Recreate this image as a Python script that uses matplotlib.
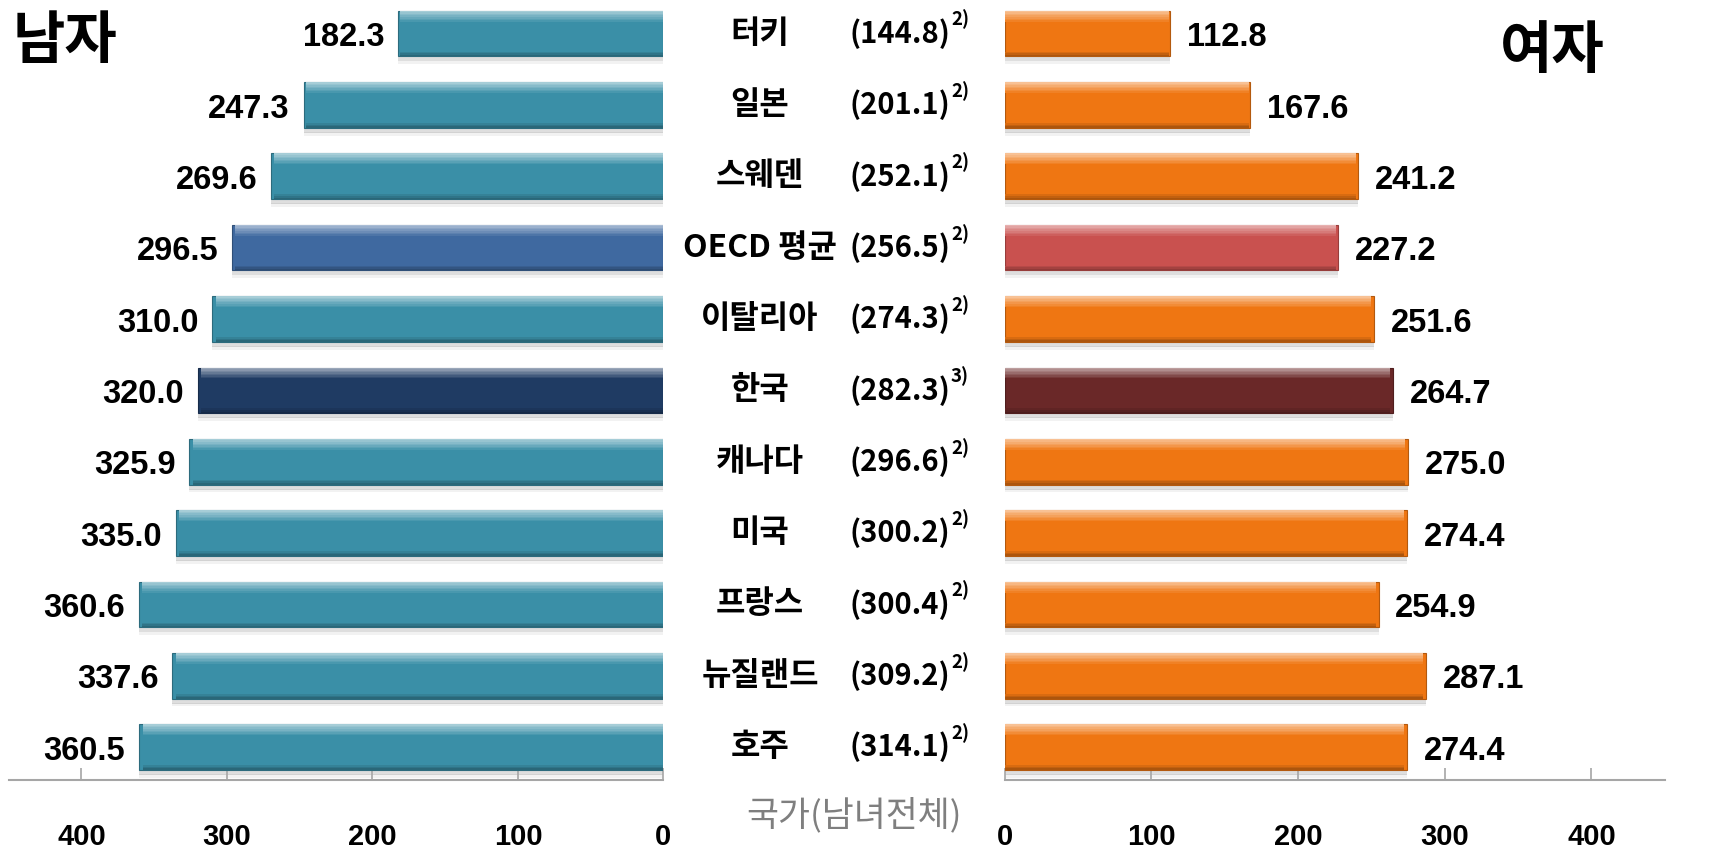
import matplotlib
matplotlib.use("Agg")
import matplotlib.pyplot as plt
import matplotlib.transforms as mtrans
import matplotlib.colors as mcolors
import numpy as np

# ---------------- data ----------------
countries = ["터키", "일본", "스웨덴", "OECD 평균", "이탈리아", "한국", "캐나다",
             "미국", "프랑스", "뉴질랜드", "호주"]
total_vals = ["144.8", "201.1", "252.1", "256.5", "274.3", "282.3", "296.6",
              "300.2", "300.4", "309.2", "314.1"]
notes = ["2)", "2)", "2)", "2)", "2)", "3)", "2)", "2)", "2)", "2)", "2)"]
male = [182.3, 247.3, 269.6, 296.5, 310.0, 320.0, 325.9, 335.0, 360.6, 337.6, 360.5]
female = [112.8, 167.6, 241.2, 227.2, 251.6, 264.7, 275.0, 274.4, 254.9, 287.1, 274.4]
male_ticks = [0, 100, 200, 300, 400]
female_ticks = [0, 100, 200, 300, 400]
title_male = "남자"
title_female = "여자"
center_label = "국가(남녀전체)"

# ---------------- style ----------------
male_colors = {"default": "#3A8FA7", "OECD 평균": "#3F69A0", "한국": "#1F3B63"}
female_colors = {"default": "#EF7612", "OECD 평균": "#C9514F", "한국": "#6A2828"}

W, H = 1714, 851
fig = plt.figure(figsize=(W / 100, H / 100), dpi=100)
fig.patch.set_facecolor("white")

bottom = 71 / H
height = 1 - bottom
axL = fig.add_axes([8.7 / W, bottom, (663.5 - 8.7) / W, height])
axR = fig.add_axes([1004.6 / W, bottom, (1664.8 - 1004.6) / W, height])

n = len(countries)
ypos = np.arange(n)[::-1].astype(float)   # first country on top
bar_h = 0.64

NUM_FONT = "Liberation Sans"
KR_FONT = ["Noto Sans CJK KR", "DejaVu Sans"]


def lighten(c, amt):
    r = np.array(mcolors.to_rgb(c))
    return tuple(r + (1 - r) * amt)


def darken(c, amt):
    r = np.array(mcolors.to_rgb(c))
    return tuple(r * (1 - amt))


def draw_bars(ax, vals, colors):
    for y, v, name in zip(ypos, vals, countries):
        c = colors.get(name, colors["default"])
        # drop shadow
        ax.barh(y - bar_h / 2 - 0.035, v, height=0.07, color="#000000",
                alpha=0.13, linewidth=0, zorder=1)
        ax.barh(y - bar_h / 2 - 0.085, v, height=0.05, color="#000000",
                alpha=0.05, linewidth=0, zorder=1)
        # base
        ax.barh(y, v, height=bar_h, color=c, linewidth=0.8,
                edgecolor=darken(c, 0.25), zorder=2)
        # top highlight gradient
        nstrip = 7
        top = y + bar_h / 2
        sh = bar_h * 0.24 / nstrip
        for k in range(nstrip):
            amt = 0.55 * (1 - k / nstrip)
            ax.barh(top - sh * (k + 0.5), v * 0.993, height=sh,
                    color=lighten(c, amt), linewidth=0, zorder=3)
        # bottom dark strip
        bot = y - bar_h / 2
        for k in range(3):
            amt = 0.28 * (1 - k / 3)
            ax.barh(bot + sh * (k + 0.5), v * 0.993, height=sh,
                    color=darken(c, amt), linewidth=0, zorder=3)


draw_bars(axL, male, male_colors)
draw_bars(axR, female, female_colors)

for ax in (axL, axR):
    ax.set_ylim(-0.46, 10.47)
    ax.set_yticks([])
    for s in ("top", "left", "right"):
        ax.spines[s].set_visible(False)
    ax.spines["bottom"].set_color("#A6A6A6")
    ax.spines["bottom"].set_linewidth(1.5)
    ax.tick_params(axis="x", direction="in", length=9, width=1.2,
                   color="#A6A6A6", pad=31, labelsize=21)
    ax.set_facecolor("none")

axL.set_xlim(450, 0)
axR.set_xlim(0, 450)
axL.set_xticks(male_ticks)
axR.set_xticks(female_ticks)
for ax in (axL, axR):
    for lab in ax.get_xticklabels():
        lab.set_fontfamily(NUM_FONT)
        lab.set_fontweight("bold")

# value labels
for y, v in zip(ypos, male):
    axL.annotate(f"{v:.1f}", xy=(v, y), xytext=(-10, -3), textcoords="offset points",
                 ha="right", va="center", fontsize=23.5, fontweight="bold",
                 fontfamily=NUM_FONT, color="black")
for y, v in zip(ypos, female):
    axR.annotate(f"{v:.1f}", xy=(v, y), xytext=(12, -3), textcoords="offset points",
                 ha="left", va="center", fontsize=23.5, fontweight="bold",
                 fontfamily=NUM_FONT, color="black")

# centre labels
tr = mtrans.blended_transform_factory(fig.transFigure, axL.transData)
for y, name, tv, nt in zip(ypos, countries, total_vals, notes):
    fig.text(760 / W, y, name, transform=tr, ha="center", va="center",
             fontsize=23, fontweight="bold", family=KR_FONT)
    fig.text(850 / W, y, f"({tv})", transform=tr, ha="left", va="center",
             fontsize=21, fontweight="bold", family=KR_FONT)
    t = fig.text(951 / W, y, nt, transform=tr, ha="left", va="center",
                 fontsize=13.5, fontweight="bold", family=KR_FONT)
    t.set_transform(tr + mtrans.ScaledTranslation(0, 10 / 72, fig.dpi_scale_trans))

# titles
fig.text(13 / W, 1 - 12 / H, title_male, ha="left", va="top", fontsize=41,
         fontweight="bold", family=KR_FONT)
fig.text(1500 / W, 1 - 22 / H, title_female, ha="left", va="top", fontsize=41,
         fontweight="bold", family=KR_FONT)
fig.text(854 / W, 1 - 815 / H, center_label, ha="center", va="center", fontsize=25,
         color="#7F7F7F", family=KR_FONT)

fig.savefig("out.png", dpi=100, facecolor="white")
